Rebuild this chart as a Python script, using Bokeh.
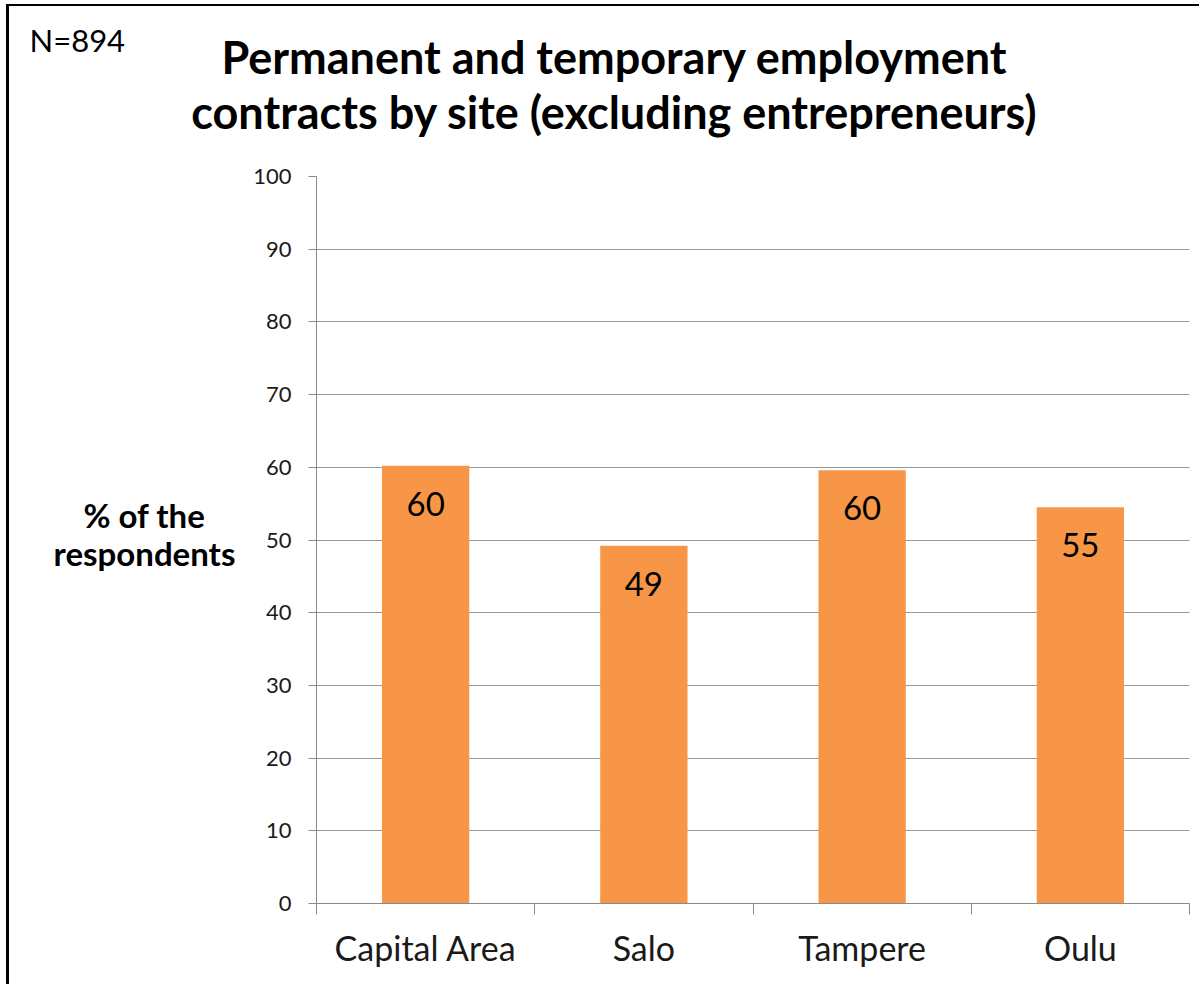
from bokeh.plotting import figure
from bokeh.layouts import column, row
from bokeh.models import (Range1d, LinearAxis, FixedTicker, ColumnDataSource,
                          CustomJSTickFormatter)
from bokeh.core.properties import value
from bokeh.embed import file_html
from bokeh.resources import INLINE

# ---- data ----
sites = ["Capital Area", "Salo", "Tampere", "Oulu"]
permanent_pct = [60.2, 49.2, 59.6, 54.5]
value_labels = ["60", "49", "60", "55"]
y_ticks = [0, 10, 20, 30, 40, 50, 60, 70, 80, 90, 100]
title_lines = ["Permanent and temporary employment",
               "contracts by site (excluding entrepreneurs)"]
y_label_lines = ["% of the", "respondents"]
sample_note = "N=894"

FONT = "Lato"
BAR = "#F79646"
GRID = "#989898"
AXIS = "#8a8a8a"

n = len(sites)
centers = [i + 0.5 for i in range(n)]          # category slot centres
bounds = [float(i) for i in range(n + 1)]      # category slot boundaries

W = 1190
HEAD_H = 150
MAIN_H = 828
LAB_W = 240


def pixel_fig(w, h):
    f = figure(width=w, height=h, x_range=Range1d(0, w), y_range=Range1d(h, 0),
               output_backend="svg", toolbar_location=None, title=None,
               x_axis_location=None, y_axis_location=None,
               min_border=0, min_border_left=0, min_border_right=0,
               min_border_top=0, min_border_bottom=0)
    f.frame_align = False
    f.outline_line_color = None
    f.xgrid.visible = False
    f.ygrid.visible = False
    f.border_fill_color = "white"
    f.background_fill_color = "white"
    return f


# ---------- header (sample size + title) ----------
head = pixel_fig(W, HEAD_H)
head.text(x=[20], y=[33], text=[sample_note], text_align="left", text_baseline="middle",
          text_font=value(FONT), text_font_size="31px", text_color="#000000")
head.text(x=[605, 605], y=[50, 105], text=title_lines, text_align="center",
          text_baseline="middle", text_font=value(FONT), text_font_size="45px",
          text_font_style="bold", text_color="#000000")

# ---------- y-axis caption ----------
ylab = pixel_fig(LAB_W, MAIN_H)
ylab.text(x=[135, 135], y=[358, 396], text=y_label_lines, text_align="center",
          text_baseline="middle", text_font=value(FONT), text_font_size="33px",
          text_font_style="bold", text_color="#000000")

# ---------- main chart ----------
p = figure(width=W - LAB_W, height=MAIN_H,
           x_range=Range1d(0, n), y_range=Range1d(0, 100),
           x_axis_location=None, y_axis_location="left",
           output_backend="svg", toolbar_location=None, title=None,
           min_border_left=67, min_border_right=10,
           min_border_top=20, min_border_bottom=81)
p.frame_align = False
p.outline_line_color = None
p.background_fill_color = "white"
p.border_fill_color = "white"

ya = p.yaxis[0]
ya.ticker = FixedTicker(ticks=y_ticks)
ya.axis_line_color = AXIS
ya.major_tick_line_color = AXIS
ya.major_tick_out = 8
ya.major_tick_in = 0
ya.minor_tick_line_color = None
ya.major_label_standoff = 17
ya.major_label_text_font = FONT
ya.major_label_text_font_size = "22px"
ya.major_label_text_color = "#1a1a1a"

p.xgrid.visible = False
p.ygrid.grid_line_color = GRID
p.ygrid.grid_line_width = 1

sep_axis = LinearAxis(ticker=FixedTicker(ticks=bounds),
                      formatter=CustomJSTickFormatter(code="return ''"))
sep_axis.axis_line_color = AXIS
sep_axis.major_tick_line_color = AXIS
sep_axis.major_tick_out = 11
sep_axis.major_tick_in = 0
sep_axis.minor_tick_line_color = None
sep_axis.major_label_text_font_size = "1px"
sep_axis.major_label_standoff = 0
p.add_layout(sep_axis, "below")

cat_axis = LinearAxis(ticker=FixedTicker(ticks=centers),
                      major_label_overrides={c: s for c, s in zip(centers, sites)})
cat_axis.axis_line_color = None
cat_axis.major_tick_line_color = None
cat_axis.minor_tick_line_color = None
cat_axis.major_label_standoff = 6
cat_axis.major_label_text_font = FONT
cat_axis.major_label_text_font_size = "34px"
cat_axis.major_label_text_color = "#1a1a1a"
p.add_layout(cat_axis, "below")

src = ColumnDataSource(dict(x=centers, pct=permanent_pct, lab=value_labels))
p.vbar(x="x", top="pct", width=0.4, source=src, fill_color=BAR, line_color=None)
p.text(x="x", y="pct", text="lab", source=src, text_align="center", text_baseline="middle",
       y_offset=38, text_font=value(FONT), text_font_size="33px", text_color="#000000")

layout = column(head, row(ylab, p, spacing=0), spacing=0,
                styles={"margin-left": "6px", "margin-top": "4px",
                        "border-left": "3px solid black", "border-top": "2px solid black"})

open("out.html", "w").write(file_html(layout, INLINE))
